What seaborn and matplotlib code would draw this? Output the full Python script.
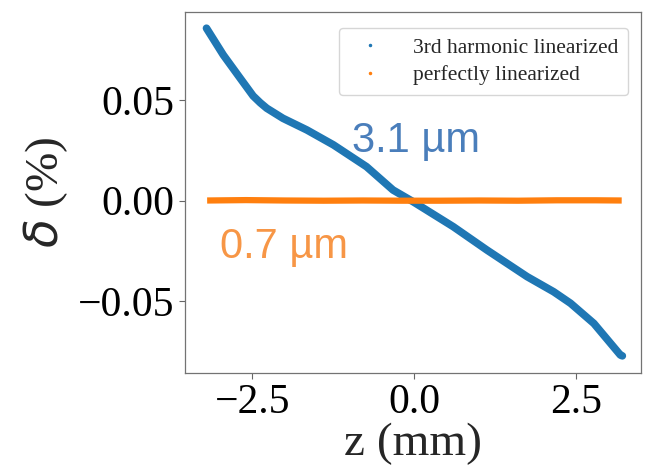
import numpy as np
import pandas as pd
import matplotlib
matplotlib.use('Agg')
import matplotlib.pyplot as plt
from matplotlib.lines import Line2D
import seaborn as sns

# valores
z_3rd = [-3.21, -2.95, -2.69, -2.49, -2.38, -2.28, -2.03, -1.66, -1.25, -0.74,
         -0.33, -0.02, 0.60, 1.12, 1.74, 2.15, 2.41, 2.77, 3.18, 3.21]
d_3rd = [0.0856, 0.0723, 0.0608, 0.0520, 0.0486, 0.0459, 0.0409, 0.0351, 0.0277,
         0.0169, 0.0053, -0.0005, -0.0129, -0.0245, -0.0377, -0.0452,
         -0.0509, -0.0609, -0.0766, -0.0770]

z_perf = [-3.2, -2.6, -2.0, -1.4, -0.8, -0.2, 0.4, 1.0, 1.6, 2.2, 2.8, 3.2]
d_perf = [0.0001, 0.0003, 0.0001, 0.0000, 0.0001, 0.0000, 0.0000,
          0.0001, 0.0000, 0.0002, 0.0002, 0.0001]

labels = ['3rd harmonic linearized', 'perfectly linearized']
blue, orange = '#1f77b4', '#ff7f0e'

sns.set_style('ticks')
plt.rcParams['font.family'] = ['Liberation Serif', 'DejaVu Serif']
plt.rcParams['mathtext.fontset'] = 'dejavusans'

fig = plt.figure(figsize=(6.45, 4.76), dpi=100)
ax = fig.add_axes([0.287, 0.216, 0.707, 0.759])

df1 = pd.DataFrame({'z': z_3rd, 'd': d_3rd})
df2 = pd.DataFrame({'z': z_perf, 'd': d_perf})
sns.lineplot(data=df1, x='z', y='d', ax=ax, color=blue, linewidth=5.5,
             sort=False, solid_capstyle='round', solid_joinstyle='round')
sns.lineplot(data=df2, x='z', y='d', ax=ax, color=orange, linewidth=4.5,
             sort=False, solid_capstyle='butt')

ax.set_xlim(-3.54, 3.50)
ax.set_ylim(-0.0856, 0.0937)
ax.set_xticks([-2.5, 0.0, 2.5])
ax.set_yticks([-0.05, 0.0, 0.05])
ax.set_xticklabels(['\u22122.5', '0.0', '2.5'])
ax.set_yticklabels(['\u22120.05', '0.00', '0.05'])
ax.tick_params(labelsize=30, length=4, width=0.8, colors='0.4', labelcolor='black')
for s in ax.spines.values():
    s.set_color('0.45')
    s.set_linewidth(0.9)

ax.set_xlabel('z (mm)', fontsize=34, labelpad=0)
ax.set_ylabel(r'$\delta$ (%)', fontsize=34, labelpad=6)

ax.text(-0.97, 0.0242, '3.1 \u00b5m', color='#4a7ebb', fontsize=30,
        family=['Liberation Sans', 'DejaVu Sans'])
ax.text(-3.0, -0.0285, '0.7 \u00b5m', color='#f79646', fontsize=30,
        family=['Liberation Sans', 'DejaVu Sans'])

handles = [Line2D([], [], ls='none', marker='.', markersize=3, color=blue),
           Line2D([], [], ls='none', marker='.', markersize=3, color=orange)]
ax.legend(handles, labels, loc='upper right', fontsize=15.5, frameon=True,
          handletextpad=1.0, borderpad=0.45, labelspacing=0.35,
          bbox_to_anchor=(0.995, 0.985))

fig.savefig('out.png', dpi=100)
